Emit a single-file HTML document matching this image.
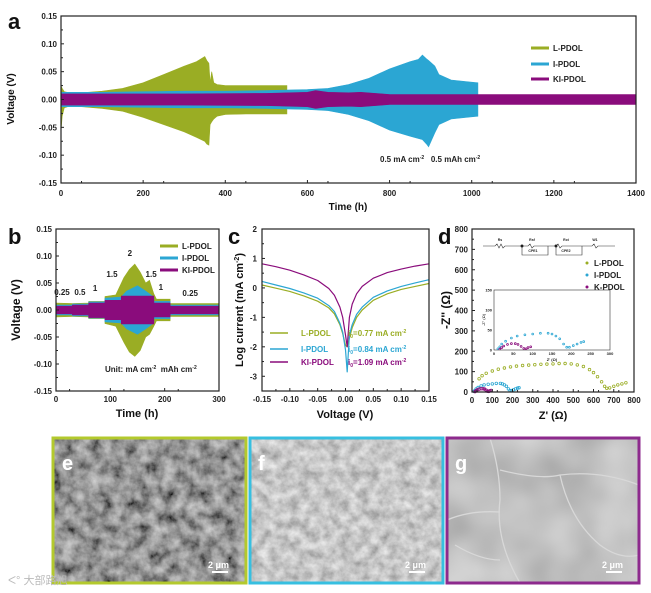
<!DOCTYPE html>
<html><head><meta charset="utf-8"><style>
html,body{margin:0;padding:0;background:#fff;}
svg{display:block;font-family:"Liberation Sans","Noto Sans CJK SC",sans-serif;}
.t{font-size:8px;font-weight:bold;fill:#222;}
.ax{font-size:10px;font-weight:bold;fill:#111;}
.pl{font-size:22px;font-weight:bold;fill:#111;}
</style></head><body>
<svg id="fig" width="651" height="593" viewBox="0 0 651 593">
<defs>
<filter id="texE" x="0" y="0" width="1" height="1"><feTurbulence type="fractalNoise" baseFrequency="0.08" numOctaves="4" seed="3"/><feColorMatrix type="matrix" values="0.8 0 0 0 -0.1 0.8 0 0 0 -0.1 0.8 0 0 0 -0.1 0 0 0 0 1"/></filter>
<filter id="texF" x="0" y="0" width="1" height="1"><feTurbulence type="fractalNoise" baseFrequency="0.1" numOctaves="4" seed="7"/><feColorMatrix type="matrix" values="0.7 0 0 0 0.22 0.7 0 0 0 0.22 0.7 0 0 0 0.22 0 0 0 0 1"/></filter>
<filter id="texG" x="0" y="0" width="1" height="1"><feTurbulence type="fractalNoise" baseFrequency="0.02" numOctaves="2" seed="5"/><feColorMatrix type="matrix" values="0.4 0 0 0 0.33 0.4 0 0 0 0.33 0.4 0 0 0 0.33 0 0 0 0 1"/></filter>
<clipPath id="clipG"><rect x="447" y="438" width="192" height="145"/></clipPath>
<clipPath id="clipIn"><rect x="494" y="290" width="116" height="60"/></clipPath>
</defs>

<g>
<rect x="53" y="438" width="193" height="145" fill="#5a5a5a" filter="url(#texE)"/>
<rect x="53" y="438" width="193" height="145" fill="none" stroke="#b3c92d" stroke-width="3"/>
<text x="62" y="470" font-size="20" font-weight="bold" fill="#fff">e</text>
<text x="208" y="568" font-size="9" font-weight="bold" fill="#fff">2 μm</text>
<rect x="212" y="571" width="16" height="2" fill="#fff"/>
</g>
<g>
<rect x="250" y="438" width="193" height="145" fill="#b0b0b0" filter="url(#texF)"/>
<rect x="250" y="438" width="193" height="145" fill="none" stroke="#37bfe0" stroke-width="3"/>
<text x="258" y="470" font-size="20" font-weight="bold" fill="#fff">f</text>
<text x="405" y="568" font-size="9" font-weight="bold" fill="#fff">2 μm</text>
<rect x="409" y="571" width="16" height="2" fill="#fff"/>
</g>
<g>
<rect x="447" y="438" width="192" height="145" fill="#8c8c8c" filter="url(#texG)"/>
<g clip-path="url(#clipG)" stroke="#d8d8d8" stroke-width="1.3" fill="none">
<path d="M490 438 Q500 470 500 500 Q495 540 520 583"/>
<path d="M447 520 Q470 510 500 512"/>
<path d="M500 470 Q540 480 560 475 Q600 470 639 485"/>
<path d="M560 475 Q570 520 600 545 Q620 560 639 555"/>
<path d="M455 545 Q480 560 500 560"/>
</g>
<rect x="447" y="438" width="192" height="145" fill="none" stroke="#8d2a8d" stroke-width="3"/>
<text x="455" y="470" font-size="20" font-weight="bold" fill="#fff">g</text>
<text x="602" y="568" font-size="9" font-weight="bold" fill="#fff">2 μm</text>
<rect x="606" y="571" width="16" height="2" fill="#fff"/>
</g>
<text x="8" y="584" font-size="11" fill="#bbb">ᐸ° 大部路旭</text>

<g id="plots"></g>
</svg>
<script>
// ===== Panel a data =====
var aLTime = [0,3,8,20,50,100,150,200,250,300,330,350,355,360,363,367,372,380,400,450,500,550];
var aLUp   = [0.025,0.02,0.014,0.012,0.012,0.015,0.02,0.03,0.045,0.06,0.068,0.077,0.07,0.065,0.03,0.05,0.03,0.027,0.025,0.025,0.025,0.025];
var aLLo   = [-0.058,-0.03,-0.015,-0.012,-0.013,-0.016,-0.021,-0.032,-0.045,-0.058,-0.068,-0.075,-0.08,-0.082,-0.045,-0.04,-0.035,-0.03,-0.027,-0.026,-0.026,-0.026];
var aITime = [0,100,200,300,400,500,550,600,650,700,750,800,850,870,880,890,895,910,920,950,1000,1015];
var aIUp   = [0.013,0.013,0.014,0.015,0.015,0.016,0.017,0.018,0.02,0.027,0.038,0.055,0.068,0.072,0.08,0.073,0.07,0.06,0.045,0.035,0.031,0.03];
var aILo   = [-0.013,-0.013,-0.014,-0.015,-0.015,-0.016,-0.017,-0.018,-0.02,-0.027,-0.038,-0.055,-0.066,-0.07,-0.072,-0.08,-0.085,-0.06,-0.045,-0.035,-0.031,-0.03];
var aKTime = [0,100,300,500,600,620,650,700,730,800,1000,1200,1400];
var aKUp   = [0.01,0.01,0.01,0.011,0.013,0.016,0.013,0.012,0.013,0.009,0.009,0.009,0.009];
var aKLo   = [-0.01,-0.01,-0.01,-0.011,-0.013,-0.016,-0.013,-0.012,-0.013,-0.009,-0.009,-0.009,-0.009];
var aYTicks = ["-0.15","-0.10","-0.05","0.00","0.05","0.10","0.15"];
var aXTicks = ["0","200","400","600","800","1000","1200","1400"];
// ===== Panel b data =====
var bLTime = [0,30,30.1,60,60.1,90,90.1,110,125,135,145,155,165,172,180,185,210,210.1,300];
var bLUp   = [0.013,0.012,0.012,0.013,0.016,0.016,0.025,0.028,0.06,0.075,0.085,0.07,0.05,0.055,0.03,0.02,0.02,0.012,0.012];
var bLLo   = [-0.013,-0.012,-0.012,-0.013,-0.016,-0.016,-0.025,-0.03,-0.06,-0.078,-0.086,-0.075,-0.05,-0.045,-0.03,-0.02,-0.02,-0.012,-0.012];
var bITime = [0,30,30.1,60,60.1,90,90.1,120,130,150,165,180,180.1,210,210.1,300];
var bIUp   = [0.009,0.009,0.011,0.011,0.015,0.015,0.022,0.024,0.035,0.045,0.035,0.024,0.016,0.016,0.009,0.009];
var bILo   = [-0.009,-0.009,-0.011,-0.011,-0.015,-0.015,-0.022,-0.024,-0.035,-0.045,-0.035,-0.024,-0.016,-0.016,-0.009,-0.009];
var bKTime = [0,30,30.1,60,60.1,90,90.1,120,120.1,180,180.1,210,210.1,300];
var bKUp   = [0.007,0.007,0.009,0.009,0.013,0.013,0.018,0.018,0.026,0.026,0.013,0.013,0.007,0.007];
var bKLo   = [-0.007,-0.007,-0.009,-0.009,-0.014,-0.014,-0.018,-0.018,-0.026,-0.026,-0.013,-0.013,-0.007,-0.007];
var bYTicks = ["-0.15","-0.10","-0.05","0.00","0.05","0.10","0.15"];
var bXTicks = ["0","100","200","300"];
var bStepLabels = ["0.25","0.5","1","1.5","2","1.5","1","0.25"];
var bStepTime   = [11,44,72,103,136,175,193,247];
var bStepV      = [0.028,0.028,0.035,0.061,0.1,0.061,0.037,0.026];
// ===== Panel c data =====
var cVolt = [-0.15,-0.125,-0.1,-0.075,-0.05,-0.03,-0.02,-0.01,-0.005,0,0.003,0.007,0.012,0.02,0.03,0.05,0.075,0.1,0.125,0.15];
var cL    = [0.1,-0.01,-0.12,-0.27,-0.45,-0.68,-0.88,-1.25,-1.55,-1.95,-2.0,-1.7,-1.35,-1.0,-0.75,-0.42,-0.2,-0.05,0.05,0.15];
var cI    = [0.22,0.1,-0.02,-0.17,-0.35,-0.6,-0.8,-1.2,-1.5,-2.1,-2.85,-1.6,-1.25,-0.9,-0.65,-0.32,-0.1,0.05,0.17,0.28];
var cK    = [0.82,0.72,0.6,0.44,0.25,-0.02,-0.25,-0.65,-1.0,-1.6,-2.0,-1.0,-0.55,-0.2,0.05,0.33,0.52,0.64,0.74,0.82];
var cYTicks = ["-3","-2","-1","0","1","2"];
var cXTicks = ["-0.15","-0.10","-0.05","0.00","0.05","0.10","0.15"];
// ===== Panel d data =====
var dLRe = [35,50,70,100,130,160,190,220,250,280,310,340,370,400,430,460,490,520,550,580,600,620,640,655,665,680,700,720,740,760];
var dLIm = [65,80,92,103,112,118,123,127,130,132,134,136,137,138,140,140,138,133,125,110,95,75,50,28,18,20,28,35,40,45];
var dIRe = [10,15,20,30,45,60,80,100,120,140,150,160,170,180,188,195,205,215,225,232];
var dIIm = [3,8,15,22,30,35,38,40,42,42,40,35,28,15,7,7,11,15,19,21];
var dKRe = [15,20,25,35,45,55,62,70,77,83,88,95];
var dKIm = [2,6,10,14,16,16,14,9,4,3,6,8];
var dYTicks = ["0","100","200","300","400","500","600","700","800"];
var dXTicks = ["0","100","200","300","400","500","600","700","800"];
var dInYTicks = ["0","50","100","150"];
var dInXTicks = ["0","50","100","150","200","250","300"];

var COL_L = "#9aad24", COL_I = "#2ba6d3", COL_K = "#8a0c7c";
var NS = "http://www.w3.org/2000/svg";
var root = document.getElementById("plots");
function mk(tag, attrs, parent){
  var e = document.createElementNS(NS, tag);
  for (var k in attrs) e.setAttribute(k, attrs[k]);
  (parent||root).appendChild(e);
  return e;
}
function txt(x,y,s,cls,anchor,parent){
  var e = mk("text",{x:x,y:y,"class":cls,"text-anchor":anchor||"middle"},parent);
  e.textContent = s;
  return e;
}
function scale(d0,d1,r0,r1){ return function(v){ return r0 + (v-d0)/(d1-d0)*(r1-r0); }; }
function bandPts(ts,up,lo,sx,sy){
  var p=[];
  for (var i=0;i<ts.length;i++) p.push(sx(ts[i]).toFixed(1)+","+sy(up[i]).toFixed(1));
  for (var j=ts.length-1;j>=0;j--) p.push(sx(ts[j]).toFixed(1)+","+sy(lo[j]).toFixed(1));
  return p.join(" ");
}
function frame(x0,y0,x1,y1,name){
  var r = mk("rect",{x:x0,y:y0,width:x1-x0,height:y1-y0,fill:"none",stroke:"#222","stroke-width":1.2});
  
  
}
function yAxis(ticks,sy,x0,x1,major,labelX,name){
  for (var i=0;i<ticks.length;i++){
    var v=parseFloat(ticks[i]), y=sy(v);
    mk("line",{x1:x0,x2:x0+3,y1:y,y2:y,stroke:"#222","stroke-width":1});
    var t = txt(labelX,y+3,ticks[i],"t","end");
    
    
    if (i<ticks.length-1){
      var m=sy(v+major/2);
      mk("line",{x1:x0,x2:x0+2,y1:m,y2:m,stroke:"#222","stroke-width":1});
    }
  }
}
function xAxis(ticks,sx,y0,major,labelY,name){
  for (var i=0;i<ticks.length;i++){
    var v=parseFloat(ticks[i]), x=sx(v);
    mk("line",{x1:x,x2:x,y1:y0,y2:y0-3,stroke:"#222","stroke-width":1});
    var t = txt(x,labelY,ticks[i],"t","middle");
    
    
    if (i<ticks.length-1){
      var m=sx(v+major/2);
      mk("line",{x1:m,x2:m,y1:y0,y2:y0-2,stroke:"#222","stroke-width":1});
    }
  }
}
function band(ts,up,lo,sx,sy,col,name){
  var p = mk("polygon",{points:bandPts(ts,up,lo,sx,sy),fill:col,stroke:col,"stroke-width":0.6});
  
  
}
function legLine(x,y,col,label,name,w){
  var l = mk("line",{x1:x,x2:x+(w||18),y1:y,y2:y,stroke:col,"stroke-width":3});
  
  
  var t = txt(x+(w||18)+4,y+3,label,"t","start");
  
  
}
function rotText(x,y,s,name,size){
  var t = mk("text",{x:x,y:y,"class":"ax","text-anchor":"middle",transform:"rotate(-90 "+x+" "+y+")"});
  if(size) t.style.fontSize=size+"px";
  t.textContent=s;
  
  
  return t;
}

// ===== Panel a =====
(function(){
  var sx=scale(0,1400,61,636), sy=scale(-0.15,0.15,183,16);
  band(aLTime,aLUp,aLLo,sx,sy,COL_L,"a-series-l-pdol");
  band(aITime,aIUp,aILo,sx,sy,COL_I,"a-series-i-pdol");
  band(aKTime,aKUp,aKLo,sx,sy,COL_K,"a-series-ki-pdol");
  frame(61,16,636,183,"a-plot-frame");
  yAxis(aYTicks,sy,61,636,0.05,57,"a-y-axis");
  xAxis(aXTicks,sx,183,100,196,"a-x-axis");
  var xt=txt(348,210,"Time (h)","ax");  
  rotText(14,99,"Voltage (V)","a-y-axis-title");
  var pl=txt(8,29,"a","pl","start");  
  legLine(531,48,COL_L,"L-PDOL","a-legend-l-pdol");
  legLine(531,64,COL_I,"I-PDOL","a-legend-i-pdol");
  legLine(531,79,COL_K,"KI-PDOL","a-legend-ki-pdol");
  var an=mk("text",{x:380,y:162,"class":"t","text-anchor":"start"});
  an.innerHTML='0.5 mA cm<tspan dy="-3" style="font-size:5px">-2</tspan><tspan dy="3" xml:space="preserve">   0.5 mAh cm</tspan><tspan dy="-3" style="font-size:5px">-2</tspan>';
   
})();

// ===== Panel b =====
(function(){
  var sx=scale(0,300,56,219), sy=scale(-0.15,0.15,391,229);
  band(bLTime,bLUp,bLLo,sx,sy,COL_L,"b-series-l-pdol");
  band(bITime,bIUp,bILo,sx,sy,COL_I,"b-series-i-pdol");
  band(bKTime,bKUp,bKLo,sx,sy,COL_K,"b-series-ki-pdol");
  frame(56,229,219,391,"b-plot-frame");
  yAxis(bYTicks,sy,56,219,0.05,52,"b-y-axis");
  xAxis(bXTicks,sx,391,50,402,"b-x-axis");
  var xt=txt(137,417,"Time (h)","ax"); xt.style.fontSize="11px";  
  rotText(20,310,"Voltage (V)","b-y-axis-title","12");
  var pl=txt(8,244,"b","pl","start");  
  legLine(160,246,COL_L,"L-PDOL","b-legend-l-pdol");
  legLine(160,258,COL_I,"I-PDOL","b-legend-i-pdol");
  legLine(160,270,COL_K,"KI-PDOL","b-legend-ki-pdol");
  for (var i=0;i<bStepLabels.length;i++){
    var t=txt(sx(bStepTime[i]),sy(bStepV[i]),bStepLabels[i],"t");
    
    
  }
  var an=mk("text",{x:105,y:372,"class":"t","text-anchor":"start"});
  an.innerHTML='Unit: mA cm<tspan dy="-3" style="font-size:5px">-2</tspan><tspan dy="3" xml:space="preserve">  mAh cm</tspan><tspan dy="-3" style="font-size:5px">-2</tspan>';
   
})();

// ===== Panel c =====
(function(){
  var sx=scale(-0.15,0.15,262,429), sy=scale(-3.5,2,391,229);
  function line(vals,col,name){
    var p=[]; for (var i=0;i<cVolt.length;i++) p.push(sx(cVolt[i]).toFixed(1)+","+sy(vals[i]).toFixed(1));
    var l=mk("polyline",{points:p.join(" "),fill:"none",stroke:col,"stroke-width":1.2,"stroke-linejoin":"round"});
     
  }
  line(cL,COL_L,"c-series-l-pdol");
  line(cI,COL_I,"c-series-i-pdol");
  line(cK,COL_K,"c-series-ki-pdol");
  frame(262,229,429,391,"c-plot-frame");
  yAxis(cYTicks,sy,262,429,1,257,"c-y-axis");
  xAxis(cXTicks,sx,391,0.05,402,"c-x-axis");
  var xt=txt(345,418,"Voltage (V)","ax"); xt.style.fontSize="11px";  
  var yt=rotText(243,310,"","c-y-axis-title","11");
  yt.innerHTML='Log current (mA cm<tspan dy="-4" style="font-size:7px">-2</tspan><tspan dy="4">)</tspan>';
  var pl=txt(228,244,"c","pl","start");  
  var legs=[["L-PDOL",COL_L,333,"0.77"],["I-PDOL",COL_I,349,"0.84"],["KI-PDOL",COL_K,362,"1.09"]];
  for (var i=0;i<legs.length;i++){
    var l=mk("line",{x1:270,x2:288,y1:legs[i][2],y2:legs[i][2],stroke:legs[i][1],"stroke-width":1.5});
     
    var t=txt(301,legs[i][2]+3,legs[i][0],"t","start"); t.style.fill=legs[i][1];
     
    var t2=mk("text",{x:348,y:legs[i][2]+3,"class":"t","text-anchor":"start"});
    t2.style.fill=legs[i][1];
    t2.innerHTML='i<tspan dy="2" style="font-size:5px">0</tspan><tspan dy="-2">='+legs[i][3]+' mA cm</tspan><tspan dy="-3" style="font-size:5px">-2</tspan>';
     
  }
})();

// ===== Panel d =====
(function(){
  var sx=scale(0,800,472,634), sy=scale(0,800,392,229);
  function dots(re,im,col,name,fx,fy,r,par){
    for (var i=0;i<re.length;i++){
      var c=mk("circle",{cx:fx(re[i]).toFixed(1),cy:fy(im[i]).toFixed(1),r:r,fill:"none",stroke:col,"stroke-width":0.8},par);
       
    }
  }
  dots(dLRe,dLIm,COL_L,"d-point-l-pdol",sx,sy,1.3);
  dots(dIRe,dIIm,COL_I,"d-point-i-pdol",sx,sy,1.3);
  dots(dKRe,dKIm,COL_K,"d-point-k-pdol",sx,sy,1.3);
  frame(472,229,634,392,"d-plot-frame");
  yAxis(dYTicks,sy,472,634,100,468,"d-y-axis");
  xAxis(dXTicks,sx,392,50,403,"d-x-axis");
  var xt=txt(553,419,"Z' (Ω)","ax"); xt.style.fontSize="11px";  
  rotText(450,310,"-Z'' (Ω)","d-y-axis-title","12");
  var pl=txt(438,244,"d","pl","start");  
  var cg=mk("g",{stroke:"#333","stroke-width":0.6,fill:"none"});
   
  mk("path",{d:"M483 246 H495 l2 -2 l2 4 l2 -4 l2 4 l2 -2 H522 M522 246 H528 l2 -2 l2 4 l2 -2 H548 M522 246 V255 H548 V246 M548 246 H556 l2 -2 l2 4 l2 -2 H574 M556 246 V255 H582 V246 M574 246 H582 H592 l2 -2 l2 4 l2 -2 H615"},cg);
  mk("circle",{cx:522,cy:246,r:1.2,fill:"#111"},cg);
  mk("circle",{cx:556,cy:246,r:1.2,fill:"#111"},cg);
  var labs=[["Rs",500,241],["Rsf",532,241],["CPE1",533,252],["Rct",566,241],["CPE2",566,252],["W1",595,241]];
  for (var i=0;i<labs.length;i++){ var t=txt(labs[i][1],labs[i][2],labs[i][0],"t"); t.style.fontSize="3.5px";   }
  var lg=[["L-PDOL",COL_L,263],["I-PDOL",COL_I,275],["K-PDOL",COL_K,287]];
  for (var j=0;j<lg.length;j++){
    var c=mk("circle",{cx:587,cy:lg[j][2],r:1.5,fill:lg[j][1]});
     
    var t=txt(594,lg[j][2]+3,lg[j][0],"t","start");  
  }
  var ix=scale(0,300,494,610), iy=scale(0,150,350,290);
  var ir=mk("rect",{x:494,y:290,width:116,height:60,fill:"#fff",stroke:"#333","stroke-width":0.6});
   
  var ig=mk("g",{"clip-path":"url(#clipIn)"});
  dots(dIRe,dIIm,COL_I,"d-inset-point-i-pdol",ix,iy,0.9,ig);
  dots(dKRe,dKIm,COL_K,"d-inset-point-k-pdol",ix,iy,0.9,ig);
  for (var a=0;a<dInYTicks.length;a++){ var v=parseFloat(dInYTicks[a]); var t1=txt(492,iy(v)+1.5,dInYTicks[a],"t","end"); t1.style.fontSize="4px";   }
  for (var b=0;b<dInXTicks.length;b++){ var v2=parseFloat(dInXTicks[b]); var t2=txt(ix(v2),355,dInXTicks[b],"t"); t2.style.fontSize="4px";   }
  var it=txt(552,361,"Z' (Ω)","t"); it.style.fontSize="4px";  
  var iyt=mk("text",{x:485,y:320,"text-anchor":"middle",transform:"rotate(-90 485 320)"}); iyt.style.fontSize="4px"; iyt.textContent="-Z'' (Ω)";
   
})();
</script>
</body></html>
